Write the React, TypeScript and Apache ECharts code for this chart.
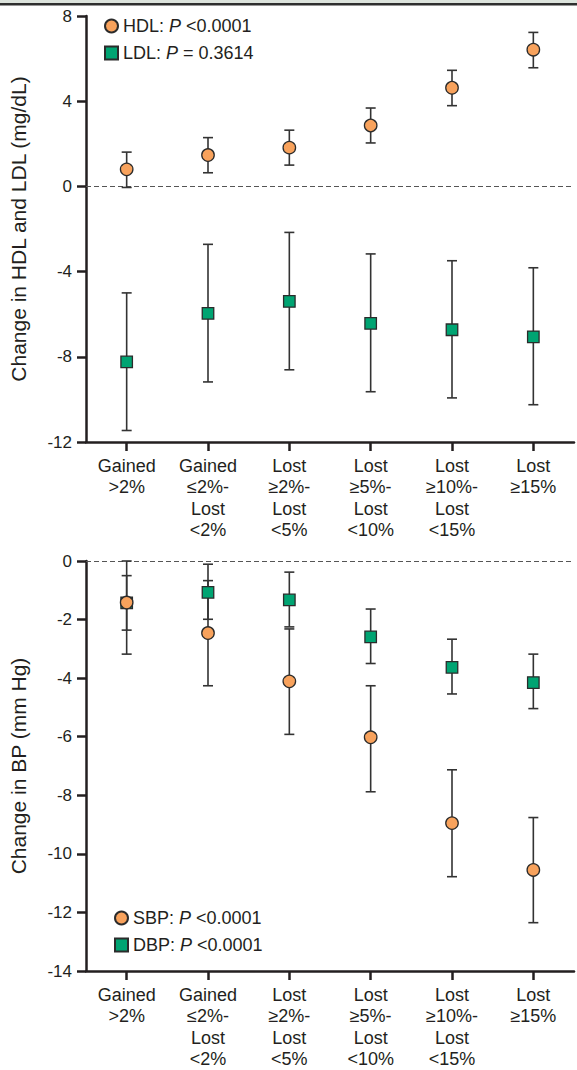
import React, { useEffect, useRef } from "react";
import * as echarts from "echarts";

const categories = [
  "Gained\n>2%",
  "Gained\n≤2%-\nLost\n<2%",
  "Lost\n≥2%-\nLost\n<5%",
  "Lost\n≥5%-\nLost\n<10%",
  "Lost\n≥10%-\nLost\n<15%",
  "Lost\n≥15%",
];

const hdlMean = [0.8, 1.47, 1.82, 2.86, 4.63, 6.42];
const hdlLow = [-0.05, 0.64, 1.0, 2.04, 3.79, 5.57];
const hdlHigh = [1.61, 2.29, 2.64, 3.68, 5.45, 7.23];

const ldlMean = [-8.24, -5.96, -5.4, -6.43, -6.73, -7.06];
const ldlLow = [-11.46, -9.18, -8.61, -9.64, -9.93, -10.25];
const ldlHigh = [-5.0, -2.72, -2.16, -3.17, -3.49, -3.82];

const sbpMean = [-1.42, -2.46, -4.11, -6.02, -8.95, -10.55];
const sbpLow = [-3.18, -4.26, -5.92, -7.88, -10.78, -12.35];
const sbpHigh = [0.0, -0.67, -2.32, -4.26, -7.13, -8.76];

const dbpMean = [-1.43, -1.07, -1.33, -2.59, -3.63, -4.15];
const dbpLow = [-2.36, -1.99, -2.25, -3.5, -4.54, -5.04];
const dbpHigh = [-0.5, -0.11, -0.38, -1.64, -2.67, -3.18];

const topTicks = { min: -12, max: 8, interval: 4 };
const bottomTicks = { min: -14, max: 0, interval: 2 };

const pValues: Record<string, string> = {
  HDL: " <0.0001",
  LDL: " = 0.3614",
  SBP: " <0.0001",
  DBP: " <0.0001",
};

const FONT = "'Liberation Sans', Arial, Helvetica, sans-serif";
const INK = "#231f20";
const ORANGE = "#F8A25C";
const GREEN = "#00A472";

function errorSeries(name: string, low: number[], high: number[], axis: number) {
  return {
    type: "custom",
    name: name + "-err",
    xAxisIndex: axis,
    yAxisIndex: axis,
    z: 2,
    silent: true,
    data: low.map((l, i) => [i, l, high[i]]),
    encode: { x: 0, y: [1, 2] },
    renderItem: (params: any, api: any) => {
      const x = api.value(0);
      const top = api.coord([x, api.value(2)]);
      const bot = api.coord([x, api.value(1)]);
      const hw = 5;
      const style = { stroke: "#333333", lineWidth: 1.6 };
      return {
        type: "group",
        children: [
          { type: "line", shape: { x1: top[0], y1: top[1], x2: bot[0], y2: bot[1] }, style },
          { type: "line", shape: { x1: top[0] - hw, y1: top[1], x2: top[0] + hw, y2: top[1] }, style },
          { type: "line", shape: { x1: bot[0] - hw, y1: bot[1], x2: bot[0] + hw, y2: bot[1] }, style },
        ],
      };
    },
  };
}

function markerSeries(name: string, values: number[], axis: number, symbol: string, color: string, z: number, zero: boolean) {
  const s: any = {
    type: "scatter",
    name,
    xAxisIndex: axis,
    yAxisIndex: axis,
    symbol,
    symbolSize: symbol === "circle" ? 12.5 : 11.5,
    z,
    itemStyle: { color, borderColor: "#2b2b2b", borderWidth: 1.3, opacity: 1 },
    data: values.map((v, i) => [i, v]),
  };
  if (zero) {
    s.markLine = {
      silent: true,
      symbol: "none",
      label: { show: false },
      lineStyle: { type: [5, 3], color: "#555555", width: 1.2 },
      data: [{ yAxis: 0 }],
      z: 1,
    };
  }
  return s;
}

function xAxis(grid: number) {
  return {
    type: "category",
    gridIndex: grid,
    data: categories,
    boundaryGap: true,
    axisLine: { show: true, onZero: false, lineStyle: { color: INK, width: 2.5 } },
    axisTick: { show: true, alignWithLabel: true, length: 9, lineStyle: { color: INK, width: 2.5 } },
    axisLabel: { color: INK, fontSize: 18, fontFamily: FONT, lineHeight: 21.5, margin: 13, interval: 0 },
    splitLine: { show: false },
  };
}

function yAxis(grid: number, ticks: any, name: string) {
  return {
    type: "value",
    gridIndex: grid,
    min: ticks.min,
    max: ticks.max,
    interval: ticks.interval,
    name,
    nameLocation: "middle",
    nameGap: 57,
    nameTextStyle: { color: INK, fontSize: 21, fontFamily: FONT },
    axisLine: { show: true, onZero: false, lineStyle: { color: INK, width: 2.5 } },
    axisTick: { show: true, length: 9, lineStyle: { color: INK, width: 2.5 } },
    axisLabel: { color: INK, fontSize: 17, fontFamily: FONT, margin: 14 },
    splitLine: { show: false },
  };
}

function legend(names: string[], left: number, top: number) {
  return {
    orient: "vertical",
    left,
    top,
    itemWidth: 13,
    itemHeight: 13,
    itemGap: 9,
    selectedMode: false,
    data: names.map((n) => ({ name: n, icon: n === "HDL" || n === "SBP" ? "circle" : "rect" })),
    formatter: (name: string) => name + ": {i|P}" + pValues[name],
    textStyle: {
      color: INK,
      fontSize: 18,
      fontFamily: FONT,
      rich: { i: { fontStyle: "italic", fontSize: 18, fontFamily: FONT, color: INK } },
    },
  };
}

export default function App() {
  const ref = useRef<HTMLDivElement>(null);
  useEffect(() => {
    document.body.style.margin = "0";
    if (!ref.current) return;
    const chart = echarts.init(ref.current, undefined, { renderer: "svg" });
    chart.setOption({
      animation: false,
      backgroundColor: "#ffffff",
      graphic: [
        { type: "rect", shape: { x: 0, y: 0, width: 577, height: 3 }, style: { fill: "#dce3dc" } },
        { type: "rect", shape: { x: 0, y: 3, width: 577, height: 2.5 }, style: { fill: "#2e2e2e" } },
      ],
      legend: [legend(["HDL", "LDL"], 99, 12), legend(["SBP", "DBP"], 109, 904)],
      grid: [
        { left: 86, right: 3, top: 16, height: 426 },
        { left: 86, right: 3, top: 561, height: 412 },
      ],
      xAxis: [xAxis(0), xAxis(1)],
      yAxis: [
        yAxis(0, topTicks, "Change in HDL and LDL (mg/dL)"),
        yAxis(1, bottomTicks, "Change in BP (mm Hg)"),
      ],
      series: [
        errorSeries("HDL", hdlLow, hdlHigh, 0),
        errorSeries("LDL", ldlLow, ldlHigh, 0),
        markerSeries("HDL", hdlMean, 0, "circle", ORANGE, 4, true),
        markerSeries("LDL", ldlMean, 0, "rect", GREEN, 3, false),
        errorSeries("SBP", sbpLow, sbpHigh, 1),
        errorSeries("DBP", dbpLow, dbpHigh, 1),
        markerSeries("DBP", dbpMean, 1, "rect", GREEN, 3, true),
        markerSeries("SBP", sbpMean, 1, "circle", ORANGE, 4, false),
      ],
    });
    return () => chart.dispose();
  }, []);
  return <div ref={ref} style={{ width: 577, height: 1070 }} />;
}
